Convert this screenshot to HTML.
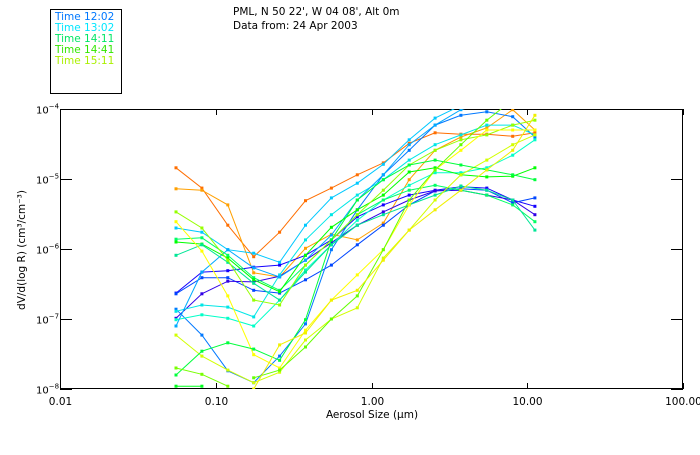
<!DOCTYPE html>
<html><head><meta charset="utf-8"><style>
body{margin:0;background:#fff;width:700px;height:450px;overflow:hidden}
svg{font-family:"DejaVu Sans","Liberation Sans",sans-serif}
</style></head><body>
<svg id="chart" width="700" height="450" viewBox="0 0 700 450">
<defs><clipPath id="pc"><rect x="60" y="109" width="623" height="280"/></clipPath></defs>
<rect x="50.5" y="9.5" width="71" height="84" fill="none" stroke="#000"/>
<g font-size="10.5">
<text x="55" y="20" fill="#0078ff">Time 12:02</text>
<text x="55" y="31" fill="#00e6ff">Time 13:02</text>
<text x="55" y="42" fill="#00e664">Time 14:11</text>
<text x="55" y="53" fill="#32e600">Time 14:41</text>
<text x="55" y="64" fill="#aaf000">Time 15:11</text>
</g>
<text x="233" y="15" font-size="10.5">PML, N 50 22', W 04 08', Alt 0m</text>
<text x="233" y="29" font-size="10.5">Data from: 24 Apr 2003</text>
<rect x="60.5" y="109.5" width="622" height="279" fill="none" stroke="#000"/>
<g id="axes"></g>
<g id="series" clip-path="url(#pc)"></g>
<text x="372" y="418" font-size="10.5" text-anchor="middle">Aerosol Size (μm)</text>
<text transform="translate(25,250) rotate(-90)" font-size="10.5" text-anchor="middle">dV/d(log R) (cm³/cm⁻³)</text>
</svg>
<script>
const xTicks=[0.01,0.1,1,10,100];
const xTickLabels=["0.01","0.10","1.00","10.00","100.00"];
const yTicks=[-4,-5,-6,-7,-8];
const sizes=[0.0556,0.0815,0.1195,0.1753,0.257,0.377,0.553,0.811,1.19,1.745,2.56,3.75,5.5,8.07,11.2];
const colors=["#ff6e00","#ffa000","#1400ff","#0046ff","#3200e6","#0078ff","#00c8ff","#00e6e6","#00ffc8","#00aaff","#00ff64","#00ff00","#00e696","#96ff00","#ffff00","#d2ff00","#00ff3c","#78ff00","#00ff1e","#64ff00","#f0f000"];
const s1=[-4.84,-5.13,-5.66,-6.11,-5.76,-5.31,-5.13,-4.94,-4.77,-4.49,-4.34,-4.36,-4.36,-4.39,-4.34];
const s2=[-5.14,-5.16,-5.37,-6.34,-6.40,-5.99,-5.79,-5.87,-5.63,-5.01,-4.59,-4.40,-4.27,-4.01,-4.30];
const s3=[-6.63,-6.33,-6.31,-6.26,-6.23,-6.09,-5.87,-5.54,-5.37,-5.23,-5.16,-5.11,-5.13,-5.30,-5.39];
const s4=[-6.64,-6.41,-6.41,-6.59,-6.63,-6.44,-6.23,-5.94,-5.66,-5.37,-5.17,-5.14,-5.16,-5.34,-5.27];
const s5=[-6.99,-6.64,-6.46,-6.47,-6.39,-6.16,-5.91,-5.66,-5.47,-5.30,-5.17,-5.16,-5.23,-5.30,-5.51];
const s6=[-6.86,-7.23,-7.74,-7.91,-7.53,-7.07,-6.01,-5.44,-4.94,-4.59,-4.23,-4.09,-4.04,-4.11,-4.40];
const s7=[-5.70,-5.76,-6.01,-6.06,-6.19,-5.66,-5.27,-5.06,-4.79,-4.44,-4.13,-3.95,null,null,null];
const s8=[-6.89,-6.80,-6.83,-6.97,-6.37,-5.87,-5.51,-5.23,-5.01,-4.73,-4.51,-4.37,-4.23,-4.23,-4.37];
const s9=[-7.01,-6.94,-6.99,-7.10,-6.73,-6.30,-5.94,-5.59,-5.30,-5.09,-4.91,-4.91,-4.84,-4.66,-4.44];
const s10=[-7.10,-6.33,-6.01,-6.27,-6.40,-6.16,-5.80,-5.30,-4.94,-4.51,-4.23,-4.01,-3.9,null,null];
const s11=[-5.86,-5.84,-6.09,-6.41,-6.59,-6.23,-5.87,-5.51,-5.30,-5.16,-5.09,-5.16,-5.23,-5.37,-5.61];
const s12=[-5.90,-5.93,-6.13,-6.44,-6.61,-6.09,-5.69,-5.44,-5.23,-4.90,-4.84,-4.94,-4.97,-4.96,-4.84];
const s13=[-6.09,-5.94,-6.19,-6.49,-6.73,-6.33,-5.94,-5.66,-5.51,-5.37,-5.23,-5.10,-5.16,-5.30,-5.73];
const s14=[-5.47,-5.70,-6.16,-6.73,-6.80,-6.23,-5.87,-5.51,-5.16,-4.80,-4.59,-4.44,-4.37,-4.23,-4.16];
const s15=[-5.61,-6.03,-6.67,-7.51,-7.70,-7.16,-6.73,-6.37,-6.01,-5.37,-4.87,-4.59,-4.30,-4.30,-4.30];
const s16=[-7.23,-7.53,-7.73,-7.91,-7.76,-7.30,-7.00,-6.84,-6.13,-5.73,-5.30,-4.94,-4.73,-4.51,-4.37];
const s17=[-7.80,-7.46,-7.34,-7.43,-7.59,-7.01,-5.87,-5.30,-5.01,-4.80,-4.73,-4.80,-4.87,-4.94,-5.01];
const s18=[-7.70,-7.79,-7.96,null,null,null,null,null,null,null,null,null,null,null,null];
const s19=[-7.96,-7.96,null,null,null,null,null,null,null,null,null,null,null,null,null];
const s20=[null,null,null,-7.84,-7.73,-7.40,-7.00,-6.67,-6.01,-5.30,-4.87,-4.51,-4.16,-3.87,null];
const s21=[null,null,null,-8.0,-7.37,-7.20,-6.73,-6.59,-6.16,-5.73,-5.44,-5.16,-4.87,-4.59,-4.09];
const allSeries=[s1,s2,s3,s4,s5,s6,s7,s8,s9,s10,s11,s12,s13,s14,s15,s16,s17,s18,s19,s20,s21];

const NS="http://www.w3.org/2000/svg";
function xs(v){return 60+(Math.log10(v)+2)*155.75;}
function ys(l){return 109+(-4-l)*70;}
const axes=document.getElementById('axes');
function mk(tag,attrs,parent){const e=document.createElementNS(NS,tag);for(const k in attrs)e.setAttribute(k,attrs[k]);parent.appendChild(e);return e;}
xTicks.forEach((t,i)=>{
  const x=Math.round(xs(t))+0.5;
  const tk=mk('path',{d:`M${x} 389V383M${x} 109V115`,stroke:'#000'},axes);
  
  
  const lb=mk('text',{x:x,y:405,'font-size':'10.5','text-anchor':'middle'},axes);
  lb.textContent=xTickLabels[i];
  
  
});
yTicks.forEach(t=>{
  const y=Math.round(ys(t))+0.5;
  const tk=mk('path',{d:`M60 ${y}H72M683 ${y}H671`,stroke:'#000'},axes);
  
  
  const lb=mk('text',{x:36,y:y+4,'font-size':'10'},axes);
  lb.textContent='10';
  const sp=mk('tspan',{dy:'-5','font-size':'7'},lb);
  sp.textContent=String(t).replace('-','−');
  
  
});
const sg=document.getElementById('series');
allSeries.forEach((s,si)=>{
  const g=mk('g',{},sg);
  
  
  let d='';let pen=false;
  s.forEach((v,i)=>{
    if(v===null){pen=false;return;}
    d+=(pen?'L':'M')+xs(sizes[i]).toFixed(1)+' '+ys(v).toFixed(1);pen=true;
  });
  const p=mk('path',{d:d,fill:'none',stroke:colors[si],'stroke-width':'1'},g);
  
  
  s.forEach((v,i)=>{
    if(v===null)return;
    const r=mk('rect',{x:(xs(sizes[i])-1.5).toFixed(1),y:(ys(v)-1.5).toFixed(1),width:3,height:3,fill:colors[si]},g);
    
    
  });
});
</script>
</body></html>
